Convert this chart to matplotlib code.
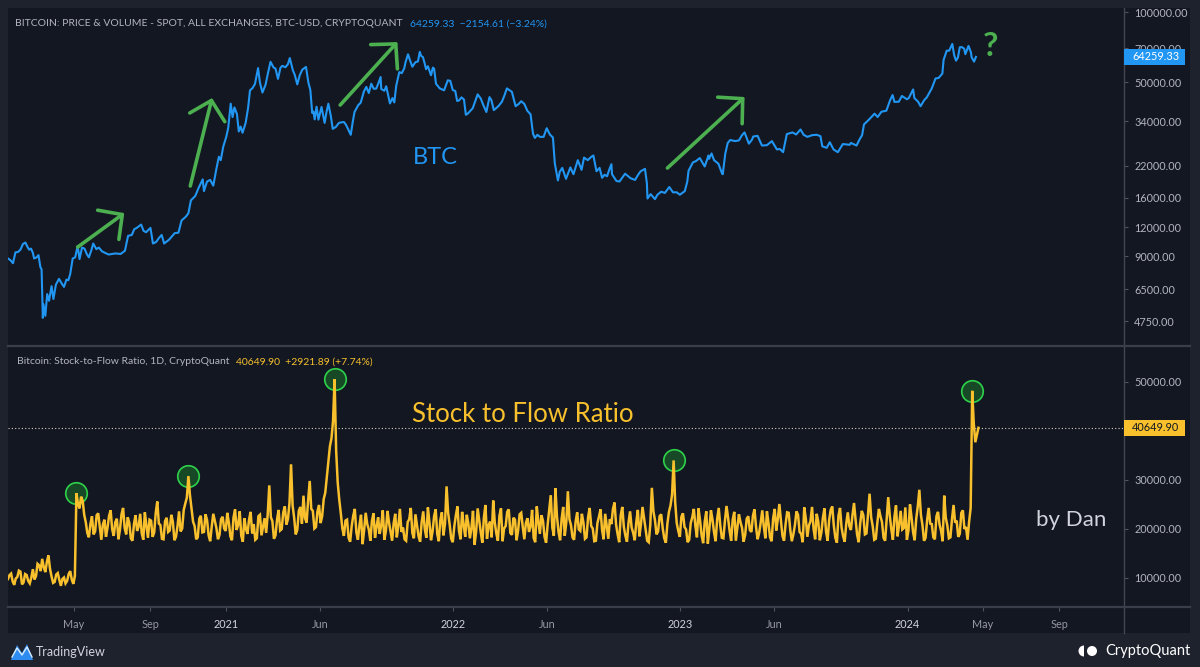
import matplotlib
matplotlib.use("Agg")
import matplotlib.pyplot as plt
import matplotlib.dates as mdates
from matplotlib.ticker import FixedLocator, FuncFormatter, NullLocator
from matplotlib.patches import Rectangle, Wedge, Circle, Polygon
from matplotlib.lines import Line2D
from matplotlib.transforms import Bbox
import pandas as pd

plt.rcParams['font.family'] = ['Lato', 'DejaVu Sans']

# ---------------- data ----------------
price_dates = [
 "2020-01-16","2020-01-20","2020-01-24","2020-01-28","2020-02-01","2020-02-05","2020-02-09","2020-02-13",
 "2020-02-16","2020-02-19","2020-02-22","2020-02-25","2020-02-27","2020-03-02","2020-03-05","2020-03-08",
 "2020-03-10","2020-03-12","2020-03-13","2020-03-16","2020-03-19","2020-03-22","2020-03-26","2020-03-29",
 "2020-04-02","2020-04-07","2020-04-11","2020-04-15","2020-04-19","2020-04-22","2020-04-25","2020-04-29",
 "2020-05-03","2020-05-07","2020-05-10","2020-05-14","2020-05-18","2020-05-22","2020-05-25","2020-05-29",
 "2020-06-01","2020-06-06","2020-06-10","2020-06-15","2020-06-20","2020-06-26","2020-07-01","2020-07-07",
 "2020-07-15","2020-07-22","2020-07-27","2020-08-02","2020-08-06","2020-08-10","2020-08-17","2020-08-21",
 "2020-08-25","2020-09-01","2020-09-05","2020-09-10","2020-09-15","2020-09-19","2020-09-23","2020-10-01",
 "2020-10-10","2020-10-16","2020-10-21","2020-10-28","2020-11-01","2020-11-05","2020-11-12","2020-11-18",
 "2020-11-24","2020-11-26","2020-12-01","2020-12-06","2020-12-11","2020-12-16","2020-12-20","2020-12-23",
 "2020-12-27","2021-01-01","2021-01-04","2021-01-08","2021-01-11","2021-01-14","2021-01-18","2021-01-21",
 "2021-01-24","2021-01-27","2021-02-01","2021-02-05","2021-02-08","2021-02-12","2021-02-16","2021-02-21",
 "2021-02-24","2021-02-28","2021-03-05","2021-03-09","2021-03-13","2021-03-18","2021-03-21","2021-03-25",
 "2021-03-29","2021-04-01","2021-04-06","2021-04-10","2021-04-13","2021-04-18","2021-04-21","2021-04-25",
 "2021-04-29","2021-05-03","2021-05-09","2021-05-13","2021-05-16","2021-05-19","2021-05-21","2021-05-23",
 "2021-05-26","2021-05-29","2021-06-03","2021-06-08","2021-06-11","2021-06-14","2021-06-18","2021-06-21",
 "2021-06-26","2021-07-01","2021-07-05","2021-07-09","2021-07-12","2021-07-16","2021-07-20","2021-07-23",
 "2021-07-26","2021-08-01","2021-08-05","2021-08-10","2021-08-14","2021-08-18","2021-08-22","2021-08-26",
 "2021-08-30","2021-09-03","2021-09-06","2021-09-07","2021-09-12","2021-09-15","2021-09-21","2021-09-25",
 "2021-09-28","2021-10-01","2021-10-06","2021-10-10","2021-10-14","2021-10-16","2021-10-20","2021-10-24",
 "2021-10-27","2021-11-01","2021-11-05","2021-11-08","2021-11-10","2021-11-13","2021-11-16","2021-11-18",
 "2021-11-21","2021-11-26","2021-11-29","2021-12-01","2021-12-04","2021-12-10","2021-12-13","2021-12-17",
 "2021-12-23","2021-12-27","2021-12-31","2022-01-04","2022-01-07","2022-01-10","2022-01-14","2022-01-18",
 "2022-01-21","2022-01-24","2022-01-28","2022-02-01","2022-02-05","2022-02-09","2022-02-14","2022-02-18",
 "2022-02-23","2022-02-28","2022-03-03","2022-03-07","2022-03-11","2022-03-15","2022-03-20","2022-03-24",
 "2022-03-28","2022-04-01","2022-04-05","2022-04-11","2022-04-16","2022-04-20","2022-04-25","2022-04-30",
 "2022-05-05","2022-05-09","2022-05-12","2022-05-16","2022-05-20","2022-05-26","2022-05-31","2022-06-05",
 "2022-06-10","2022-06-13","2022-06-16","2022-06-18","2022-06-21","2022-06-25","2022-07-01","2022-07-08",
 "2022-07-13","2022-07-20","2022-07-26","2022-07-30","2022-08-05","2022-08-10","2022-08-14","2022-08-19",
 "2022-08-24","2022-08-28","2022-09-01","2022-09-05","2022-09-09","2022-09-12","2022-09-13","2022-09-20",
 "2022-09-25","2022-10-04","2022-10-13","2022-10-20","2022-10-25","2022-10-29","2022-11-05","2022-11-08",
 "2022-11-09","2022-11-14","2022-11-21","2022-11-25","2022-12-01","2022-12-07","2022-12-14","2022-12-20",
 "2022-12-26","2022-12-31","2023-01-08","2023-01-12","2023-01-14","2023-01-21","2023-01-26","2023-02-01",
 "2023-02-09","2023-02-15","2023-02-16","2023-02-20","2023-02-24","2023-03-03","2023-03-09","2023-03-10",
 "2023-03-14","2023-03-18","2023-03-22","2023-03-30","2023-04-05","2023-04-10","2023-04-14","2023-04-21",
 "2023-04-26","2023-04-28","2023-05-05","2023-05-12","2023-05-20","2023-05-28","2023-06-05","2023-06-10",
 "2023-06-15","2023-06-21","2023-06-30","2023-07-06","2023-07-13","2023-07-18","2023-07-24","2023-08-01",
 "2023-08-08","2023-08-14","2023-08-17","2023-08-24","2023-08-29","2023-09-04","2023-09-11","2023-09-19",
 "2023-09-30","2023-10-02","2023-10-11","2023-10-16","2023-10-20","2023-10-23","2023-10-31","2023-11-09",
 "2023-11-14","2023-11-20","2023-11-28","2023-12-04","2023-12-08","2023-12-11","2023-12-18","2023-12-23",
 "2023-12-31","2024-01-03","2024-01-10","2024-01-12","2024-01-18","2024-01-22","2024-01-28","2024-02-01",
 "2024-02-09","2024-02-15","2024-02-20","2024-02-26","2024-02-28","2024-03-04","2024-03-08","2024-03-13",
 "2024-03-16","2024-03-19","2024-03-22","2024-03-25","2024-03-28","2024-04-01","2024-04-03","2024-04-08",
 "2024-04-12","2024-04-13","2024-04-17","2024-04-20"]
price_values = [
 8800,8650,8400,9350,9380,9600,10150,10300,
 9900,9600,9700,9300,8800,8900,9100,8100,
 7900,4900,5600,5000,6200,5800,6700,5900,
 6800,7200,6900,6650,7150,7100,7550,8800,
 8900,9950,8750,9800,9700,9150,8900,9550,
 10200,9650,9800,9450,9300,9150,9200,9250,
 9200,9500,11000,11100,11750,11900,12300,11550,
 11400,11900,10200,10350,10800,11100,10200,10600,
 11300,11350,12800,13300,13750,15600,16300,17800,
 19200,17100,18800,19100,18050,21300,24000,23200,
 26500,29300,31900,40500,35500,39000,36600,30800,
 32300,30400,33500,38900,46200,47200,49200,57500,
 49800,45200,48800,54900,61200,57800,57300,51700,
 57700,58800,58000,59800,63500,56200,53800,49000,
 53600,56600,58200,49700,46400,37000,37500,34700,
 39300,34600,39200,33500,37300,40500,35800,31600,
 32200,33500,33700,33800,33000,31400,29800,33600,
 37300,39900,40900,45600,47800,45000,49300,46900,
 47000,50000,52700,46800,46000,48100,40600,42800,
 41000,48200,55300,54700,57400,60900,65900,61300,
 58300,61000,61400,67500,64900,64100,60000,56900,
 58600,53600,57800,57200,49300,47100,46700,46200,
 51000,50700,46300,45900,41600,41800,43100,42200,
 36300,36700,37700,38700,41400,44400,42600,40000,
 37300,43200,42000,38000,38800,39700,41300,43900,
 47100,46300,45500,39500,40400,41500,40400,37700,
 36500,30100,28900,29800,29200,29200,31800,29900,
 29000,22500,20400,19000,20700,21500,19300,21600,
 20200,23200,21100,23800,23200,23900,24300,20800,
 21500,19500,20100,19800,21300,22300,20200,18900,
 18800,20300,19400,19100,20100,20800,21300,18500,
 15900,16600,15800,16500,17000,16800,17800,16900,
 16900,16500,17100,18800,20900,22700,23000,23700,
 21800,24300,23500,24800,23200,22400,20300,20200,
 24700,27500,28300,28000,28200,29700,30500,27300,
 28400,29300,29500,26800,26900,28000,25800,25900,
 25100,30000,30500,29900,31400,29800,29200,29700,
 29800,29400,26600,26200,27700,25800,25100,27200,
 27000,27500,26800,28500,29700,33000,34600,36700,
 35500,37400,37800,41900,44100,41200,41300,43700,
 42300,42800,46600,42800,41300,39500,42000,43100,
 47100,51900,52200,54500,62400,68300,68300,73000,
 65300,61900,63800,70600,70800,69700,66000,71600,
 67100,64000,61300,64259.33]

s2f_start = "2020-01-16"
s2f_step = "60h"
s2f_values = [
 # pre-halving
 9800,10600,10900,9300,8600,9900,10200,11500,11300,8700,9100,10800,10600,9400,8900,10100,
 11800,9700,10400,12900,12600,11400,13900,12200,11200,13300,14600,11900,10300,9000,9200,10700,
 11000,9600,8400,9800,10100,8900,9400,10800,11400,9700,8800,10400,
 # after halving 2020
 27300,25100,24200,26600,25800,22900,21400,19200,18300,21000,22600,18900,19500,22800,23200,20400,
 17800,20900,21900,18400,20300,22700,23800,19900,
 18600,21400,22100,17900,19900,23000,24300,20200,18900,22400,21200,18100,17600,21000,22800,19600,
 20500,23100,19100,17800,23400,20700,18200,21900,
 21700,18400,19300,23300,25600,21100,20800,18000,17900,21600,22300,19400,19700,22900,21500,17700,
 18400,20600,23600,19500,20100,23900,25200,26400,
 30800,26900,
 24100,21500,20600,17900,18300,22100,22700,19300,19400,23000,21800,18700,17500,20500,23100,21700,
 20200,17900,18800,22000,22500,20100,19600,23300,
 21300,18500,17700,22300,24000,19800,20900,23600,18600,17400,22200,20000,19000,21900,23500,19100,
 21000,17800,18100,22600,22900,18700,20400,22200,
 19200,23000,28900,22400,21600,18000,18700,21900,23900,19700,20000,23400,24600,20900,22000,25300,
 33200,24800,
 22300,18900,19800,23700,24500,21100,26800,22200,21300,25900,29800,24100,23700,20100,20400,23600,
 24900,21200,22600,26100,27400,30600,33800,36900,38500,42000,
 50600,36000,
 29500,26000,23200,20100,18600,21700,21900,18200,17400,20600,22700,24100,19300,17800,20800,22900,
 16900,19800,23300,21000,19900,17600,21600,23200,18200,20500,
 22400,19000,20700,23800,17800,19600,23700,21300,19500,17600,21200,23100,18300,20600,24100,19400,
 20300,17900,17600,21400,22000,24300,19200,18100,
 23000,20800,18500,17400,21400,23600,20000,18200,24400,21300,17700,19500,22600,24000,19000,17500,
 21800,23400,18700,21100,28700,23300,20900,18000,
 17300,20600,22800,24600,19600,17900,23500,20800,18400,22900,21100,18100,20200,23700,16800,19400,
 24200,21800,19300,17200,22300,24900,18000,20700,
 21500,18300,25800,21300,19100,17600,22700,24200,17500,20100,20600,23500,24000,19200,18800,22300,
 21900,17700,19700,23000,23300,20400,17900,21200,
 22200,19400,20500,23900,18200,17300,24600,21500,19000,22800,21700,18400,17200,20900,23900,26900,
 20300,18600,28300,22500,19400,17700,22100,24500,
 18600,21400,27700,22000,20800,18300,17800,21500,23400,19900,19600,23100,21300,18000,18300,22400,
 24300,20600,20100,17500,17600,21200,22500,24000,
 19800,17900,23100,20500,18000,22000,21000,24100,25400,20900,18900,17300,22800,24500,20400,18600,
 17400,21300,23600,20300,19200,17700,21400,23900,
 18500,21000,24500,22200,20000,17600,17300,20900,28400,23600,21800,18900,19500,22600,23000,20100,
 18100,17200,21100,23500,24800,27000,
 34000,25500,
 21200,19600,18400,22500,23200,20400,19900,17300,17800,21200,22400,24100,20600,18300,24200,21700,
 18700,17100,21500,23600,17000,20100,23800,21900,
 19300,17500,22000,24300,20700,18200,18100,21700,24700,22300,19600,17600,21900,23500,17600,20300,
 23000,21400,20200,17400,18800,22100,22600,19800,
 19400,22700,24000,20400,17900,19200,21300,23800,20500,18100,23600,21200,18300,17500,22200,24100,
 19700,22000,25100,21700,18600,17600,21000,23400,
 23300,19800,17500,18900,20800,23600,22900,19400,19000,17300,24400,22100,18400,20700,21600,24500,
 20000,17900,23100,21500,17700,19300,22300,24200,
 19500,17600,21800,23900,24600,20700,18200,17200,22700,24300,20300,18500,17400,21100,23400,20600,
 19800,22800,25300,21900,18800,17300,21200,23700,
 22800,18900,19100,23000,27200,22400,20600,17800,18000,21300,24100,22600,21400,18200,17600,21900,
 26500,22700,19900,17800,22500,24800,18500,20900,
 23700,19900,20200,24400,17800,19700,25000,22300,19300,17700,22100,24600,28000,22900,20800,17600,
 18200,21800,24300,21100,21000,18300,17900,22600,
 23500,20900,19600,17500,26800,22300,20700,18100,18300,22000,24900,21300,21700,18400,19000,23300,
 23800,20000,20400,17800,21500,24300,
 # 2024 halving
 48200,41500,37700,39200,40649.90]
s2f_peak_index = [44, 116, 210, 428, 620]

price_ticks = [4750, 6500, 9000, 12000, 16000, 22000, 34000, 50000, 70000, 100000]
s2f_ticks = [10000, 20000, 30000, 50000]
x_tick_dates = ["2020-05-01", "2020-09-01", "2021-01-01", "2021-06-01", "2022-01-01", "2022-06-01",
                "2023-01-01", "2023-06-01", "2024-01-01", "2024-05-01", "2024-09-01"]
x_tick_labels = ["May", "Sep", "2021", "Jun", "2022", "Jun", "2023", "Jun", "2024", "May", "Sep"]

arrow_start_dates = ["2020-05-07", "2020-11-04", "2021-07-03", "2022-12-11"]
arrow_start_prices = [9850, 17980, 39960, 21470]
arrow_end_dates = ["2020-07-21", "2020-12-09", "2021-10-03", "2023-04-14"]
arrow_end_prices = [13770, 42820, 74370, 43260]

last_price = 64259.33
price_change = -2154.61
price_change_pct = -3.24
last_s2f = 40649.90
s2f_change = 2921.89
s2f_change_pct = 7.74

# ---------------- style ----------------
W, H = 1200, 667
BG = '#131722'
FRAME = '#1e222d'
BLUE = '#2196f3'
YEL = '#f7c02c'
GREEN = '#4caf50'
GREY = '#b2b5be'
LINEC = '#3a3e4a'
TICK_FS = 7.8

fig = plt.figure(figsize=(12, 6.67), dpi=100)
fig.patch.set_facecolor(FRAME)


def fx(px):
    return px / W


def fy(py):
    return 1 - py / H


fig.add_artist(Rectangle((fx(8), fy(633)), fx(1190) - fx(8), fy(8) - fy(633),
                         transform=fig.transFigure, facecolor=BG, edgecolor='none', zorder=0))

ax1 = fig.add_axes([fx(8), fy(345), fx(1124) - fx(8), fy(10) - fy(345)])
ax2 = fig.add_axes([fx(8), fy(607), fx(1124) - fx(8), fy(347) - fy(607)])

pdates = pd.to_datetime(price_dates)
sdates = pd.date_range(s2f_start, periods=len(s2f_values), freq=s2f_step)
xmin, xmax = pd.Timestamp("2020-01-16"), pd.Timestamp("2024-12-14")

for ax in (ax1, ax2):
    ax.set_facecolor(BG)
    ax.patch.set_alpha(0)
    for s in ax.spines.values():
        s.set_visible(False)
    ax.set_xlim(xmin, xmax)
    ax.yaxis.tick_right()
    ax.tick_params(axis='y', direction='out', length=3, width=0.8, color='#50535e',
                   labelcolor=GREY, labelsize=TICK_FS, pad=4.3)

# --- top panel: price
ax1.plot(pdates, price_values, color=BLUE, lw=1.5, zorder=3, solid_joinstyle='round')
ax1.set_yscale('log')
ax1.set_ylim(3750, 102000)
ax1.yaxis.set_major_locator(FixedLocator(price_ticks))
ax1.yaxis.set_minor_locator(NullLocator())
ax1.yaxis.set_major_formatter(FuncFormatter(lambda v, p: f"{v:.2f}"))
ax1.tick_params(axis='x', which='both', bottom=False, labelbottom=False)

for sd, sv, ed, ev in zip(arrow_start_dates, arrow_start_prices, arrow_end_dates, arrow_end_prices):
    ax1.annotate('', xy=(mdates.date2num(pd.Timestamp(ed)), ev),
                 xytext=(mdates.date2num(pd.Timestamp(sd)), sv),
                 arrowprops=dict(arrowstyle='->,head_length=1.25,head_width=1.3', color=GREEN,
                                 lw=2.6, shrinkA=0, shrinkB=0, mutation_scale=10,
                                 capstyle='round', joinstyle='round'), zorder=4)

# --- bottom panel: stock-to-flow
ax2.plot(sdates, s2f_values, color=YEL, lw=1.8, zorder=3, solid_joinstyle='miter')
ax2.set_ylim(4080, 57140)
ax2.yaxis.set_major_locator(FixedLocator(s2f_ticks))
ax2.yaxis.set_minor_locator(NullLocator())
ax2.yaxis.set_major_formatter(FuncFormatter(lambda v, p: f"{v:.2f}"))
ax2.axhline(last_s2f, color='#d8d4c0', lw=0.8, ls=(0, (1, 2)), zorder=2)
ax2.scatter(sdates[s2f_peak_index], [s2f_values[i] for i in s2f_peak_index], s=240,
            facecolor=(0.10, 0.42, 0.16, 0.6), edgecolor='#2ed24a', linewidth=1.2, zorder=2.5)

ax2.set_xticks([mdates.date2num(pd.Timestamp(d)) for d in x_tick_dates])
ax2.set_xticklabels(x_tick_labels)
ax2.tick_params(axis='x', direction='out', length=3, width=0.8, color='#50535e',
                labelsize=TICK_FS, pad=6)
for lbl, s in zip(ax2.get_xticklabels(), x_tick_labels):
    lbl.set_color('#d1d4dc' if s.isdigit() else '#9598a1')


# last-value labels on the price scales
def value_label(ax, value, fc, tc):
    ydisp = ax.transData.transform((0, value))[1]
    ypx = H - ydisp
    fig.add_artist(Rectangle((fx(1124), fy(ypx + 8.3)), fx(1185) - fx(1124), 16.6 / H,
                             transform=fig.transFigure, facecolor=fc, edgecolor='none', zorder=20))
    fig.text(fx(1132), fy(ypx), f"{value:.2f}", color=tc, fontsize=TICK_FS,
             ha='left', va='center', zorder=21)
    return ydisp


price_label_y = value_label(ax1, last_price, BLUE, 'white')
value_label(ax2, last_s2f, YEL, '#131722')

# the 70000 tick label is mostly hidden behind the last-price label (as on the chart)
fig.canvas.draw()
for tick in ax1.yaxis.get_major_ticks():
    if abs(tick.get_loc() - 70000) < 1:
        tick.label2.set_clip_box(Bbox.from_extents(1124, price_label_y + 8.3, 1200, H))
        tick.label2.set_clip_on(True)

# separators
fig.add_artist(Line2D([fx(1124), fx(1124)], [fy(8), fy(633)], transform=fig.transFigure,
                      color='#434651', lw=1.0))
fig.add_artist(Line2D([fx(8), fx(1190)], [fy(346), fy(346)], transform=fig.transFigure,
                      color=LINEC, lw=1.6))
fig.add_artist(Line2D([fx(8), fx(1190)], [fy(607), fy(607)], transform=fig.transFigure,
                      color=LINEC, lw=1.6))

# headers
renderer = fig.canvas.get_renderer()
h1 = fig.text(fx(15), fy(24), "BITCOIN: PRICE & VOLUME - SPOT, ALL EXCHANGES, BTC-USD, CRYPTOQUANT",
              color=GREY, fontsize=7.5, ha='left', va='center')
x1 = h1.get_window_extent(renderer).x1
fig.text((x1 + 7) / W, fy(24),
         f"{last_price:.2f}  \u2212{abs(price_change):.2f} (\u2212{abs(price_change_pct):.2f}%)",
         color=BLUE, fontsize=7.5, ha='left', va='center')
h2 = fig.text(fx(17), fy(362), "Bitcoin: Stock-to-Flow Ratio, 1D, CryptoQuant",
              color=GREY, fontsize=7.5, ha='left', va='center')
x2 = h2.get_window_extent(renderer).x1
fig.text((x2 + 7) / W, fy(362),
         f"{last_s2f:.2f}  +{s2f_change:.2f} (+{s2f_change_pct:.2f}%)",
         color=YEL, fontsize=7.5, ha='left', va='center')

# annotations
fig.text(fx(435), fy(157), "BTC", color=BLUE, fontsize=17, ha='center', va='center')
fig.text(fx(523), fy(415), "Stock to Flow Ratio", color=YEL, fontsize=18.5, ha='center', va='center')
fig.text(fx(1071), fy(520), "by Dan", color='#d1d4dc', fontsize=16, ha='center', va='center')
fig.text(fx(990), fy(47), "?", color=GREEN, fontsize=24, fontweight='bold', ha='center', va='center')

# footer
fig.add_artist(Polygon([(fx(11), fy(660)), (fx(17), fy(645)), (fx(22), fy(653)), (fx(27), fy(644)),
                        (fx(33), fy(660))], closed=True, transform=fig.transFigure,
                       facecolor='#2e8cf0', edgecolor='none'))
fig.add_artist(Line2D([fx(12), fx(17), fx(22), fx(27), fx(32)], [fy(657), fy(648), fy(655), fy(647), fy(657)],
                      transform=fig.transFigure, color='#d8ecff', lw=1.0))
fig.text(fx(36), fy(652), "TradingView", color='#d1d4dc', fontsize=9, ha='left', va='center')
fig.add_artist(Wedge((10.84, (H - 651) / 100), 0.055, 90, 270, transform=fig.dpi_scale_trans,
                     facecolor='white', edgecolor='none'))
fig.add_artist(Circle((10.92, (H - 651) / 100), 0.05, transform=fig.dpi_scale_trans,
                      facecolor='white', edgecolor='none'))
fig.text(fx(1191), fy(651), "CryptoQuant", color='white', fontsize=10.5, ha='right', va='center')

fig.savefig("out.png", dpi=100, facecolor=fig.get_facecolor())
